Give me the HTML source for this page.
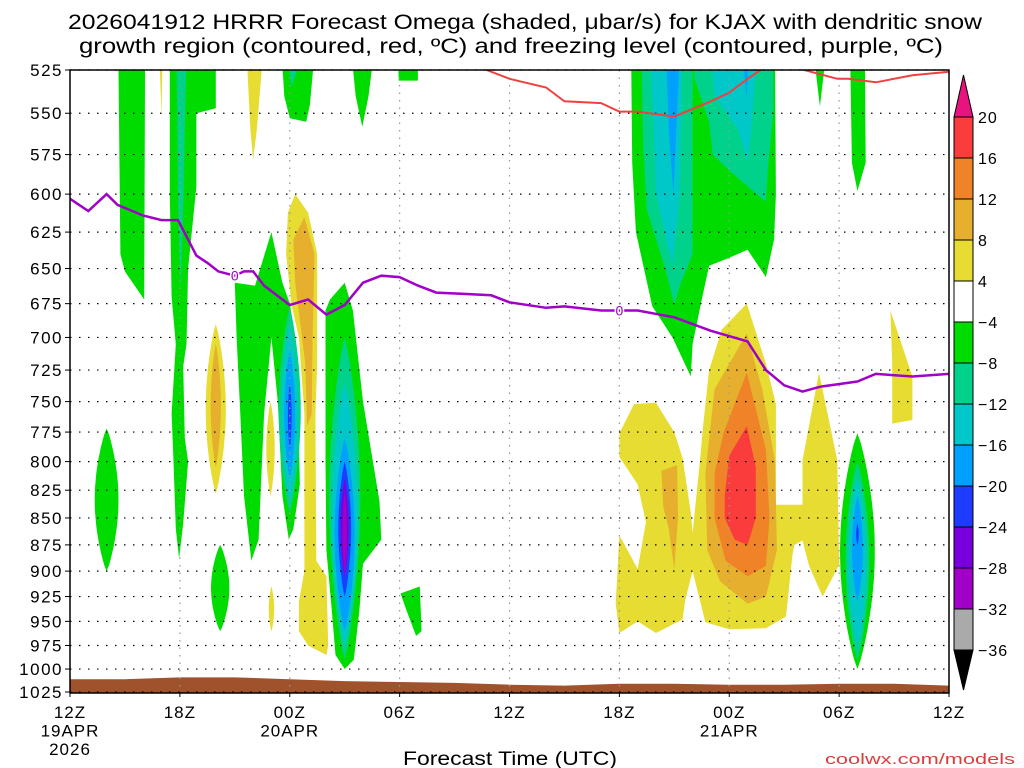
<!DOCTYPE html>
<html><head><meta charset="utf-8"><style>
body{margin:0;background:#fff;}
svg{display:block;font-family:"Liberation Sans",sans-serif;}
</style></head><body>
<svg id="chart" width="1024" height="768" viewBox="0 0 1024 768">
<text x="68" y="29" textLength="914" lengthAdjust="spacingAndGlyphs" font-size="21">2026041912 HRRR Forecast Omega (shaded, μbar/s) for KJAX with dendritic snow</text>
<text x="79" y="53" textLength="864" lengthAdjust="spacingAndGlyphs" font-size="21">growth region (contoured, red, ºC) and freezing level (contoured, purple, ºC)</text>
<defs><clipPath id="pc"><rect x="70" y="70" width="879" height="623"/></clipPath></defs>
<g id="shades" clip-path="url(#pc)"></g>
<g id="grid"></g>
<g id="lines" clip-path="url(#pc)"></g>
<rect x="70" y="70" width="879" height="623" fill="none" stroke="#000" stroke-width="1.5"/>
<g id="axes"></g>
<g id="cbar"></g>
<text x="403" y="765" textLength="214" lengthAdjust="spacingAndGlyphs" font-size="19">Forecast Time (UTC)</text>
<text x="825" y="764" textLength="190" lengthAdjust="spacingAndGlyphs" font-size="15" fill="#e03c3c">coolwx.com/models</text>
</svg>
<script>
const pLevels=[525,550,575,600,625,650,675,700,725,750,775,800,825,850,875,900,925,950,975,1000,1025];
const hourTicks=[0,6,12,18,24,30,36,42,48];
const hourLabels=[["12Z","19APR","2026"],["18Z"],["00Z","20APR"],["06Z"],["12Z"],["18Z"],["00Z","21APR"],["06Z"],["12Z"]];
const cbLabels=["20","16","12","8","4","−4","−8","−12","−16","−20","−24","−28","−32","−36"];
const cbColors=["#fa3c3c","#f08228","#e6af2d","#e6dc32","#ffffff","#00dc00","#00d28c","#00c8c8","#00a0ff","#1e3cff","#7800dc","#a000c8","#aaaaaa"];
const COL={g:"#00dc00",t:"#00d28c",c:"#00c8c8",lb:"#00a0ff",b:"#1e3cff",v:"#7800dc",p:"#a000c8",y:"#e6dc32",go:"#e6af2d",o:"#f08228",r:"#fa3c3c"};
const LV={g:1,t:2,c:3,lb:4,b:5,v:6,p:7,y:1,go:2,o:3,r:4};
const polys=[
["g",[[2.64,515],[4.1,515],[4.05,672],[3.0,652],[2.75,640]]],
["g",[[5.45,515],[7.96,515],[7.96,547],[6.9,550],[6.9,595],[6.45,650],[6.36,705],[6.18,722],[6.27,780],[6.45,800],[6.18,855],[5.96,888],[5.78,860],[5.65,800],[5.55,760],[5.78,705],[5.55,670],[5.45,600]]],
["t",[[5.82,515],[6.36,515],[6.2,600],[6.05,665],[5.9,600]]],
["y",[[4.87,515],[5.05,515],[5.0,552]]],
["y",[[9.64,515],[10.55,515],[10.2,560],[10.0,578],[9.85,560]]],
["g",[[11.55,515],[13.36,515],[13.1,545],[12.9,555],[12.0,553],[11.7,540]]],
["t",[[11.9,515],[12.7,515],[12.1,535]]],
["g",[[15.36,515],[16.6,515],[16.3,540],[15.96,558],[15.6,540]]],
["g",[[17.9,515],[19.0,515],[19.0,531],[17.95,531]]],
["g",[[9.0,660],[10.1,662],[11.0,625],[11.6,660],[12.0,675],[12.3,700],[12.5,780],[12.55,820],[12.2,860],[11.95,870],[11.6,830],[11.35,750],[11.0,700],[10.6,760],[10.4,830],[10.3,870],[9.9,890],[9.5,830],[9.3,760],[9.1,700]]],
["y",[[11.9,612],[12.3,600],[13.0,612],[13.5,640],[13.5,720],[13.4,760],[13.45,890],[14.0,905],[14.1,975],[14.0,985],[13.0,975],[12.5,960],[12.5,930],[12.8,900],[12.8,760],[12.5,700],[12.1,676],[11.8,640]]],
["go",[[12.2,630],[12.8,615],[13.35,640],[13.25,700],[13.2,760],[12.95,770],[12.85,720],[12.3,660]]],
["g",[[13.95,680],[14.2,672],[15.0,660],[15.45,680],[16.0,750],[16.9,835],[17.0,870],[16.0,893],[15.8,940],[15.5,990],[15.0,1000],[14.5,985],[14.3,940],[14.0,880],[13.95,800]]],
["g",[[18.05,922],[19.1,915],[19.2,960],[18.9,965],[18.4,940]]],
["g",[[30.64,515],[38.5,515],[38.55,600],[38.45,630],[38.0,656],[37.0,637],[35.9,643],[34.9,648],[34.45,675],[34.0,705],[33.9,730],[32.9,700],[31.8,677],[30.9,625],[30.7,580]]],
["t",[[31.2,515],[34.0,515],[34.0,640],[33.3,662],[33.0,676],[32.5,650],[31.5,610],[31.3,570]]],
["c",[[31.7,515],[33.45,515],[33.3,600],[32.9,648],[32.0,600]]],
["lb",[[32.55,515],[33.3,515],[32.95,600],[32.7,560]]],
["t",[[34.1,515],[38.4,515],[38.4,550],[38.1,585],[38.0,605],[37.0,595],[36.0,585],[35.1,575],[34.9,555],[34.1,530]]],
["c",[[35.0,515],[37.55,515],[37.2,560],[37.0,580],[36.5,560],[35.2,540]]],
["lb",[[36.7,515],[37.1,515],[36.95,540]]],
["g",[[40.6,515],[41.3,515],[40.95,546]]],
["g",[[42.6,515],[43.4,515],[43.45,580],[43.0,598],[42.7,580]]],
["y",[[30.0,776],[30.8,752],[32.0,751],[33.0,775],[33.45,797],[33.9,845],[34.0,864],[34.4,800],[34.55,773],[34.9,725],[35.6,694],[36.96,675],[38.0,720],[38.55,752],[38.55,838],[40.0,838],[40.0,799],[40.9,727],[41.9,799],[42.0,894],[41.1,925],[40.36,895],[40.0,871],[39.55,875],[39.45,885],[39.1,945],[38.0,957],[36.0,958],[34.7,951],[34.0,900],[33.6,928],[33.45,948],[32.0,962],[31.0,950],[30.0,962],[29.8,932],[30.0,866],[31.0,898],[31.45,854],[31.0,820],[30.0,796]]],
["go",[[32.3,808],[33.15,803],[33.2,850],[33.0,898],[32.7,860],[32.4,840]]],
["go",[[34.7,810],[35.2,740],[36.96,697],[37.8,740],[38.5,800],[38.6,880],[38.0,925],[37.0,932],[35.5,910],[34.8,880]]],
["o",[[35.2,810],[35.7,775],[36.96,727],[38.0,790],[38.2,850],[38.0,895],[37.0,905],[35.8,890],[35.2,850]]],
["r",[[35.75,830],[36.0,795],[36.96,770],[37.45,805],[37.45,850],[37.0,875],[36.3,870],[35.75,850]]],
["y",[[44.8,680],[46.0,730],[46.0,765],[44.9,768],[44.9,720]]]
];
const lenses=[
["g",2.0,772,900,0.65],
["y",7.96,690,828,0.55],["go",7.96,705,805,0.28],
["t",12.0,678,845,0.6],["c",12.0,690,835,0.45],["lb",12.0,710,815,0.3],["b",12.0,735,790,0.1],
["y",10.95,750,830,0.23],
["t",15.0,700,990,0.85],["c",15.0,735,975,0.7],["lb",15.0,780,960,0.55],["b",15.0,800,925,0.35],["v",15.0,815,905,0.22],["p",15.0,825,905,0.12],
["g",8.2,875,960,0.5],
["y",11.0,915,960,0.15],
["g",43.0,776,1000,0.95],["t",43.0,800,990,0.65],["c",43.0,815,975,0.5],["lb",43.0,830,930,0.3],["b",43.0,855,875,0.07]
];
const frzHours=[0,1,2,2.6,4,5,5.9,6.9,7.5,8.1,9,9.5,10,10.6,11.5,12,13,14,15,16,17,18,19,20,21.5,23,24,26,27,29,30,31,33,35,37,38,39,40,41,43,44,46,48];
const frzP=[603,611,600,607,614,617,617,641,646,652,655,652,652,662,671,676,672,683,676,660,655,656,662,667,668,669,674,678,677,680,680,680,685,695,703,725,737,742,738,734,728,730,728];
const dgzHours=[22.5,24,26,27,29,30,31,33,35,36,37,38,39,41.9,42.5,44,46,48];
const dgzP=[524,530,535,543,544,549,549,552,543,538,530,523,522,530,530,532,528,526];
const gndHours=[0,3,6,9,12,15,18,21,24,27,30,33,36,39,42,45,48];
const gndP=[1011,1011,1009,1009,1011,1013,1014,1015,1017,1018,1016,1016,1017,1017,1016,1016,1018];

const X0=70,X1=949,Y0=70,Y1=692;
const x=h=>X0+(X1-X0)*h/48;
const y=p=>Y0+(Y1-Y0)*Math.log(p/525)/Math.log(1025/525);
const NS="http://www.w3.org/2000/svg";
function mk(tag,attrs,parent){const e=document.createElementNS(NS,tag);for(const k in attrs)e.setAttribute(k,attrs[k]);parent.appendChild(e);return e;}
const shades=document.getElementById('shades');
const items=[];
polys.forEach(pp=>items.push({lv:LV[pp[0]],c:pp[0],d:"M"+pp[1].map(q=>x(q[0]).toFixed(1)+","+y(q[1]).toFixed(1)).join("L")+"Z"}));
lenses.forEach(L=>{const [c,h,pt,pb,hw]=L;const yt=y(pt),yb=y(pb),w=(x(hw)-x(0));const n=24;let r=[],l=[];
 for(let i=0;i<=n;i++){const t=i/n,yy=yt+(yb-yt)*t,ww=w*Math.pow(Math.sin(Math.PI*t),0.8);r.push([x(h)+ww,yy]);l.unshift([x(h)-ww,yy]);}
 items.push({lv:LV[c],c:c,d:"M"+r.concat(l).map(q=>q[0].toFixed(1)+","+q[1].toFixed(1)).join("L")+"Z"});});
items.sort((a,b)=>a.lv-b.lv);
items.forEach(it=>{const e=mk('path',{d:it.d,fill:COL[it.c]},shades);

});
let gd="M"+x(0)+","+(Y1+2);gndHours.forEach((h,i)=>gd+="L"+x(h).toFixed(1)+","+y(gndP[i]).toFixed(1));gd+="L"+x(48)+","+(Y1+2)+"Z";
const g=mk('path',{d:gd,fill:"#a0522d"},shades);


const grid=document.getElementById('grid');
pLevels.forEach(p=>{const l=mk('line',{x1:X0,x2:X1,y1:y(p),y2:y(p),stroke:"#000","stroke-dasharray":"1.5,7.5","stroke-width":1.2},grid);

});
hourTicks.slice(1,-1).forEach(h=>{const l=mk('line',{x1:x(h),x2:x(h),y1:Y0,y2:Y1,stroke:"#999","stroke-dasharray":"1.5,6","stroke-width":1.2},grid);

});
const lines=document.getElementById('lines');
const fz=mk('path',{d:"M"+frzHours.map((h,i)=>x(h).toFixed(1)+","+y(frzP[i]).toFixed(1)).join("L"),fill:"none",stroke:"#a000c8","stroke-width":2.5},lines);


const dz=mk('path',{d:"M"+dgzHours.map((h,i)=>x(h).toFixed(1)+","+y(dgzP[i]).toFixed(1)).join("L"),fill:"none",stroke:"#f04040","stroke-width":2},lines);


[[9,655],[30,680]].forEach(q=>{const t=mk('text',{x:x(q[0]),y:y(q[1])+5,"text-anchor":"middle","font-size":14,fill:"#a000c8",stroke:"#fff","stroke-width":3,"paint-order":"stroke"},lines);t.textContent="0";

});
const axes=document.getElementById('axes');
pLevels.forEach(p=>{const t=mk('text',{x:63,y:y(p)+6,"text-anchor":"end","font-size":17,"letter-spacing":"1.5"},axes);t.textContent=p;


mk('line',{x1:65,x2:70,y1:y(p),y2:y(p),stroke:"#000"},axes);});
hourTicks.forEach((h,i)=>{hourLabels[i].forEach((s,j)=>{const t=mk('text',{x:x(h),y:718+j*18.5,"text-anchor":"middle","font-size":17,"letter-spacing":"1"},axes);t.textContent=s;

});
mk('line',{x1:x(h),x2:x(h),y1:692,y2:697,stroke:"#000"},axes);});
const cb=document.getElementById('cbar');
const cbX=954,cbW=19,cbTop=117,cbH=41;
const tri1=mk('path',{d:`M${cbX},${cbTop}L${cbX+cbW/2},75L${cbX+cbW},${cbTop}Z`,fill:"#e8137f",stroke:"#000"},cb);


cbColors.forEach((c,i)=>{const r=mk('rect',{x:cbX,y:cbTop+i*cbH,width:cbW,height:cbH,fill:c,stroke:"#000"},cb);

});
const yEnd=cbTop+cbColors.length*cbH;
const tri2=mk('path',{d:`M${cbX},${yEnd}L${cbX+cbW/2},690L${cbX+cbW},${yEnd}Z`,fill:"#000",stroke:"#000"},cb);


cbLabels.forEach((s,i)=>{const t=mk('text',{x:978,y:cbTop+i*cbH+6,"font-size":16,"letter-spacing":"1"},cb);t.textContent=s;

});
</script>
</body></html>
